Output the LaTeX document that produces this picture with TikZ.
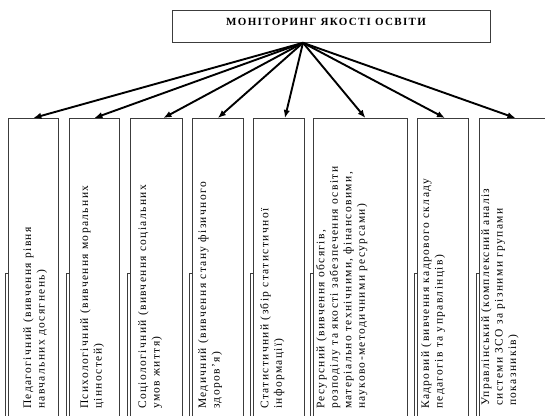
\documentclass[tikz,border=0pt]{standalone}
\usepackage{fontspec}
\setmainfont{Liberation Serif}
\newfontfamily\spaced[LetterSpace=12]{Liberation Serif}
\usetikzlibrary{arrows.meta}
\definecolor{frame}{RGB}{60, 60, 60}

\begin{document}
\begin{tikzpicture}[x=1pt, y=-1pt,
    box/.style={draw=frame, line width=0.8pt, anchor=north west, inner sep=0pt, minimum height=320},
    lbl/.style={rotate=90, anchor=north west, inner sep=0pt, align=left, font=\spaced\fontsize{11.5}{13.5}\selectfont},
    inner/.style={draw=frame, line width=0.6pt},
    link/.style={-{Latex[length=8pt, width=6.5pt]}, line width=1.9pt}]

\clip (0,0) rectangle (545,415);

% Title
\node[draw=frame, line width=0.8pt, minimum width=318, minimum height=32, anchor=north west] (top) at (172,10) {};
\node[font=\spaced\fontsize{11}{12}\selectfont\bfseries] (title) at (326,22) {МОНІТОРИНГ ЯКОСТІ ОСВІТИ};

% Boxes
\node[box, minimum width=50] (b1) at (8,118) {};
\node[box, minimum width=50] (b2) at (69,118) {};
\node[box, minimum width=52] (b3) at (130,118) {};
\node[box, minimum width=51] (b4) at (192,118) {};
\node[box, minimum width=51] (b5) at (253,118) {};
\node[box, minimum width=94] (b6) at (313,118) {};
\node[box, minimum width=51] (b7) at (417,118) {};
\node[box, minimum width=72] (b8) at (479,118) {};

% Frames behind the boxes
\draw[inner] (5,430) -- (5,273) -- (8,273);
\draw[inner] (66,430) -- (66,273) -- (69,273);
\draw[inner] (127,430) -- (127,273) -- (130,273);
\draw[inner] (189,430) -- (189,273) -- (192,273);
\draw[inner] (250,430) -- (250,273) -- (253,273);
\draw[inner] (310,430) -- (310,273) -- (313,273);
\draw[inner] (414,430) -- (414,273) -- (417,273);
\draw[inner] (476,430) -- (476,273) -- (479,273);

% Labels
\node[lbl] (t1) at (23,409) {Педагогічний (вивчення рівня\\навчальних досягнень)};
\node[lbl] (t2) at (80,409) {Психологічний (вивчення моральних\\цінностей)};
\node[lbl] (t3) at (138,409) {Соціологічний (вивчення соціальних\\умов життя)};
\node[lbl] (t4) at (198,409) {Медичний (вивчення стану фізичного\\здоров’я)};
\node[lbl] (t5) at (260,409) {Статистичний (збір статистичної\\інформації)};
\node[lbl] (t6) at (316,409) {Ресурсний (вивчення обсягів,\\розподілу та якості забезпечення освіти\\матеріально технічними, фінансовими,\\науково-методичними ресурсами)};
\node[lbl] (t7) at (421,409) {Кадровий (вивчення кадрового складу\\педагогів та управлінців)};
\node[lbl] (t8) at (481,406) {Управлінський (комплексний аналіз\\системи ЗСО за різними групами\\показників)};

% Arrows
\draw[link] (top.south -| 303,0) -- (b1.north);
\draw[link] (top.south -| 303,0) -- (b2.north);
\draw[link] (top.south -| 303,0) -- ([xshift=7]b3.north);
\draw[link] (top.south -| 303,0) -- (b4.north);
\draw[link] (top.south -| 303,0) -- ([xshift=6]b5.north);
\draw[link] (top.south -| 303,0) -- ([xshift=5]b6.north);
\draw[link] (top.south -| 303,0) -- ([xshift=2]b7.north);
\draw[link] (top.south -| 303,0) -- (b8.north);

\end{tikzpicture}
\end{document}
